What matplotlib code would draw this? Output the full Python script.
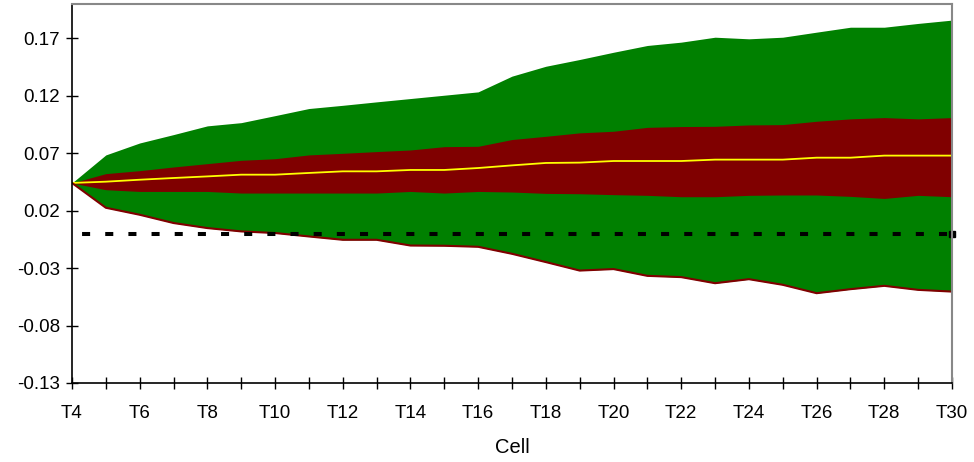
import numpy as np
import matplotlib
matplotlib.use("Agg")
import matplotlib.pyplot as plt

plt.rcParams['font.family'] = ['Liberation Sans', 'DejaVu Sans']

# data, one value per cell T4..T30
cells = ["T%d" % i for i in range(4, 31)]
green_hi = [0.0442, 0.0686, 0.079, 0.0863, 0.0939, 0.0967, 0.1028, 0.109, 0.1118,
            0.1148, 0.1177, 0.1206, 0.1235, 0.1372, 0.1458, 0.1517, 0.158, 0.1639,
            0.1668, 0.1711, 0.1697, 0.1711, 0.1755, 0.1798, 0.1798, 0.1831, 0.186]
red_hi = [0.0442, 0.0523, 0.0549, 0.0581, 0.061, 0.0639, 0.0653, 0.0686, 0.07,
          0.0715, 0.0729, 0.0758, 0.0761, 0.082, 0.0848, 0.0878, 0.0892, 0.0926,
          0.0933, 0.0935, 0.0947, 0.095, 0.0979, 0.1, 0.1011, 0.1, 0.1011]
median = [0.0442, 0.0453, 0.047, 0.0485, 0.0499, 0.0514, 0.0514, 0.0529, 0.0543,
          0.0543, 0.0555, 0.0555, 0.0572, 0.0595, 0.0616, 0.0619, 0.0633, 0.0633,
          0.0633, 0.0645, 0.0645, 0.0645, 0.0662, 0.0662, 0.068, 0.068, 0.068]
red_lo = [0.0442, 0.0383, 0.0368, 0.0368, 0.0368, 0.0354, 0.0354, 0.0354, 0.0354,
          0.0354, 0.0368, 0.0354, 0.0368, 0.0363, 0.0351, 0.0348, 0.034, 0.0334,
          0.0322, 0.0322, 0.0334, 0.0337, 0.0337, 0.0325, 0.0307, 0.0334, 0.0322]
green_lo = [0.0442, 0.0226, 0.0165, 0.0093, 0.0049, 0.002, 0.0006, -0.0024, -0.0053,
            -0.0053, -0.0103, -0.0105, -0.0114, -0.0175, -0.0247, -0.0321, -0.0308,
            -0.0367, -0.0378, -0.0431, -0.0396, -0.0445, -0.0518, -0.0483, -0.0454,
            -0.0489, -0.0504]
zero_level = 0.0
yticks = [-0.13, -0.08, -0.03, 0.02, 0.07, 0.12, 0.17]

x = np.arange(len(cells))

fig = plt.figure(figsize=(9.74, 4.62), dpi=100)
ax = fig.add_axes([0.0739, 0.171, 0.9035, 0.8203])

# outer band green, inner band dark red
ax.fill_between(x, green_lo, green_hi, color='#008000', lw=0)
ax.fill_between(x, red_lo, red_hi, color='#800000', lw=0)
ax.plot(x, median, color='#ffff00', lw=1.3)
ax.plot(x, green_lo, color='#800000', lw=1.5)
ax.plot([x[-1], x[-1]], [red_lo[-1], green_lo[-1]], color='#800000', lw=1.5)

# dashed zero line
ax.plot(x, [zero_level] * len(x), color='black', lw=2.9,
        linestyle=(3.25, (2, 3.75)), solid_capstyle='butt', dash_capstyle='butt')
ax.plot([x[-1]], [zero_level], marker='s', color='black', ms=4.5, clip_on=False)

ax.set_xlim(x[0], x[-1])
ax.set_ylim(-0.13, 0.2)
ax.set_yticks(yticks)
ax.set_yticklabels(["%.2f" % v for v in yticks])
ax.set_xticks(x)
ax.set_xticklabels([c if i % 2 == 0 else "" for i, c in enumerate(cells)])
ax.tick_params(axis='both', direction='inout', length=9, width=1, labelsize=13.5, color='black')
ax.tick_params(axis='x', pad=11)
ax.tick_params(axis='y', pad=4)

for s in ['left', 'bottom']:
    ax.spines[s].set_color('black')
    ax.spines[s].set_linewidth(1.2)
for s in ['top', 'right']:
    ax.spines[s].set_color('#888888')
    ax.spines[s].set_linewidth(1.5)

ax.set_xlabel('Cell', fontsize=14.5, labelpad=12)

plt.savefig('out.png', dpi=100)
